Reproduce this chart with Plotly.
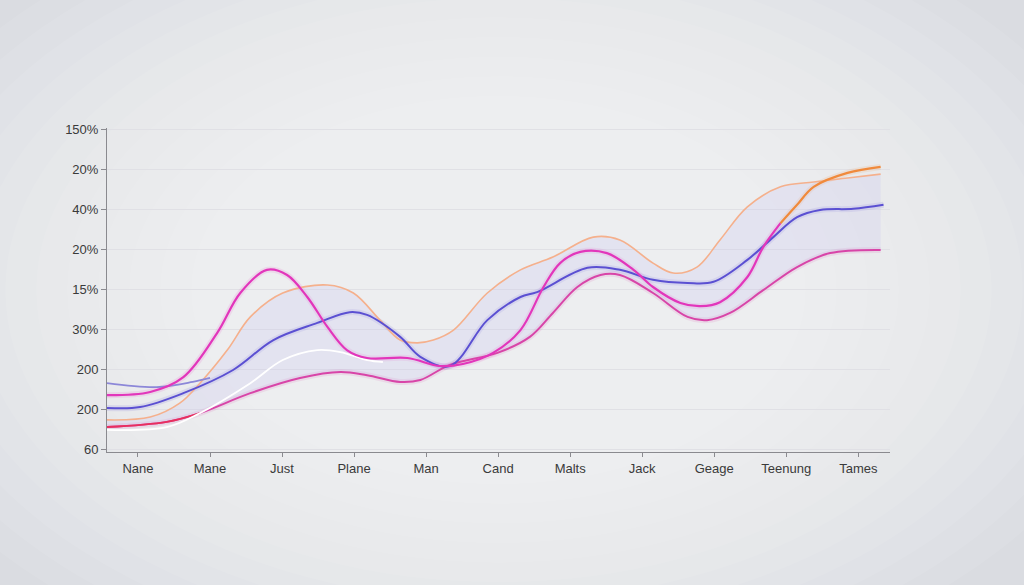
import plotly.graph_objects as go

categories = ["Nane", "Mane", "Just", "Plane", "Man", "Cand", "Malts", "Jack", "Geage", "Teenung", "Tames"]
y_tick_values = [0, 10, 20, 30, 40, 50, 60, 70, 80]
y_tick_labels = ["60", "200", "200", "30%", "15%", "20%", "40%", "20%", "150%"]

# peach upper envelope
peach_x = [-0.43, 0.17, 0.58, 0.86, 1.24, 1.56, 2.01, 2.63, 2.99, 3.36, 3.64, 3.88, 4.10, 4.38, 4.85, 5.31,
           5.76, 6.32, 6.69, 7.15, 7.43, 7.76, 8.08, 8.46, 8.92, 9.38, 9.85, 10.31]
peach_y = [7.3, 8.0, 11.5, 16.5, 24.8, 33.1, 39.1, 41.1, 39.1, 32.3, 27.3, 26.6, 27.3, 29.8, 39.1, 44.9,
           48.1, 53.1, 52.4, 46.6, 44.1, 45.6, 52.4, 60.7, 65.7, 66.9, 67.9, 68.9]

# magenta series (high peak left), turning orange at the right
magenta_x = [-0.43, 0.17, 0.63, 1.10, 1.42, 1.79, 2.07, 2.35, 2.63, 2.90, 3.18, 3.74, 4.19, 4.51, 4.93, 5.31,
             5.63, 5.86, 6.14, 6.51, 6.88, 7.15, 7.53, 7.81, 8.08, 8.46, 8.68, 8.92]
magenta_y = [13.5, 14.3, 18.0, 29.1, 39.1, 44.9, 43.6, 38.1, 30.6, 24.8, 22.8, 22.8, 20.8, 21.3, 24.1, 29.8,
             40.6, 46.6, 49.4, 49.1, 44.9, 40.6, 36.6, 35.8, 36.8, 43.1, 50.6, 56.6]
orange_x = [8.92, 9.15, 9.38, 9.85, 10.31]
orange_y = [56.6, 61.2, 65.7, 69.2, 70.7]

# lower pink series
lower_x = [-0.43, 0.40, 0.86, 1.56, 2.25, 2.81, 3.18, 3.64, 3.92, 4.33, 4.99, 5.44, 5.76, 6.10, 6.42, 6.69,
           7.15, 7.63, 7.90, 8.22, 8.68, 9.15, 9.61, 10.31]
lower_y = [5.5, 6.8, 9.0, 14.0, 17.8, 19.3, 18.5, 16.8, 17.3, 21.1, 24.1, 28.1, 34.1, 40.6, 43.6, 43.6,
           39.1, 33.1, 32.3, 34.1, 39.8, 45.6, 49.1, 49.9]

# blue series
blue_x = [-0.43, 0.03, 0.63, 1.32, 1.88, 2.49, 2.94, 3.18, 3.64, 3.92, 4.33, 4.85, 5.31, 5.54, 6.24, 6.69,
          7.15, 7.63, 7.99, 8.46, 8.82, 9.15, 9.47, 9.93, 10.35]
blue_y = [10.3, 10.5, 14.0, 19.8, 27.3, 31.6, 34.3, 33.6, 28.1, 23.1, 20.8, 32.3, 38.1, 39.3, 45.4, 44.9,
          42.4, 41.6, 41.9, 47.4, 53.1, 58.1, 59.9, 60.2, 61.2]

# short light-blue series at the left
lightblue_x = [-0.43, 0.26, 0.76, 1.00]
lightblue_y = [16.5, 15.5, 16.8, 17.8]

# white series
white_x = [-0.43, 0.40, 0.86, 1.56, 2.01, 2.49, 2.81, 3.18, 3.40]
white_y = [4.8, 5.5, 9.0, 16.5, 22.3, 24.8, 24.3, 22.3, 21.8]

fig = go.Figure()

# background vignette (lighter centre)
for i in range(12):
    f = 1.15 - i * 0.055
    cx, cy = 0.5, 0.5
    fig.add_shape(type="circle", xref="paper", yref="paper",
                  x0=cx - 0.72 * f, x1=cx + 0.72 * f, y0=cy - 1.1 * f, y1=cy + 1.1 * f,
                  fillcolor="white", opacity=0.08, line_width=0, layer="below")

def glow(x, y, color):
    fig.add_trace(go.Scatter(x=x, y=y, mode="lines", line=dict(color=color, width=6, shape="spline", smoothing=1.0),
                             opacity=0.12, hoverinfo="skip", showlegend=False))

glow(magenta_x, magenta_y, "#e83cc0")
glow(lower_x, lower_y, "#d94aa8")
glow(blue_x, blue_y, "#5a4fd4")
glow(orange_x, orange_y, "#f28a3a")

fig.add_trace(go.Scatter(x=lower_x, y=lower_y, mode="lines",
                         line=dict(color="#d845a8", width=2, shape="spline", smoothing=1.0), showlegend=False))
fig.add_trace(go.Scatter(x=peach_x, y=peach_y, mode="lines", fill="tonexty",
                         fillcolor="rgba(200,195,240,0.25)",
                         line=dict(color="#f5b08c", width=1.6, shape="spline", smoothing=1.0), showlegend=False))
fig.add_trace(go.Scatter(x=lower_x[:3], y=lower_y[:3], mode="lines",
                         line=dict(color="#e8305e", width=2, shape="spline", smoothing=1.0), showlegend=False))
fig.add_trace(go.Scatter(x=white_x, y=white_y, mode="lines",
                         line=dict(color="#ffffff", width=1.8, shape="spline", smoothing=1.0), showlegend=False))
fig.add_trace(go.Scatter(x=lightblue_x, y=lightblue_y, mode="lines",
                         line=dict(color="#8c87d8", width=1.8, shape="spline", smoothing=1.0), showlegend=False))
fig.add_trace(go.Scatter(x=blue_x, y=blue_y, mode="lines",
                         line=dict(color="#5b50d2", width=2, shape="spline", smoothing=1.0), showlegend=False))
fig.add_trace(go.Scatter(x=magenta_x, y=magenta_y, mode="lines",
                         line=dict(color="#e236bb", width=2.2, shape="spline", smoothing=1.0), showlegend=False))
fig.add_trace(go.Scatter(x=orange_x, y=orange_y, mode="lines",
                         line=dict(color="#f08a3c", width=2.2, shape="spline", smoothing=1.0), showlegend=False))

axis_font = dict(family="Liberation Sans, Arial, sans-serif", size=13, color="#3a3a3a")

fig.update_layout(
    width=1024, height=585,
    margin=dict(l=107, r=134, t=128, b=133),
    paper_bgcolor="#dadce1",
    plot_bgcolor="rgba(0,0,0,0)",
    showlegend=False,
    xaxis=dict(range=[-0.43, 10.44], tickvals=list(range(len(categories))), ticktext=categories,
               showgrid=False, zeroline=False, showline=True, linecolor="#8a8a8f", linewidth=1,
               ticks="outside", ticklen=4, tickcolor="#8a8a8f", tickfont=axis_font),
    yaxis=dict(range=[-0.75, 80.45], tickvals=y_tick_values, ticktext=y_tick_labels,
               showgrid=True, gridcolor="#e0e0e5", gridwidth=1, zeroline=False,
               showline=True, linecolor="#8a8a8f", linewidth=1,
               ticks="outside", ticklen=5, tickcolor="#8a8a8f", tickfont=axis_font),
)

fig.write_html("out.html", config={"displayModeBar": False},
               post_script="document.body.style.margin='0';document.body.style.overflow='hidden';")
